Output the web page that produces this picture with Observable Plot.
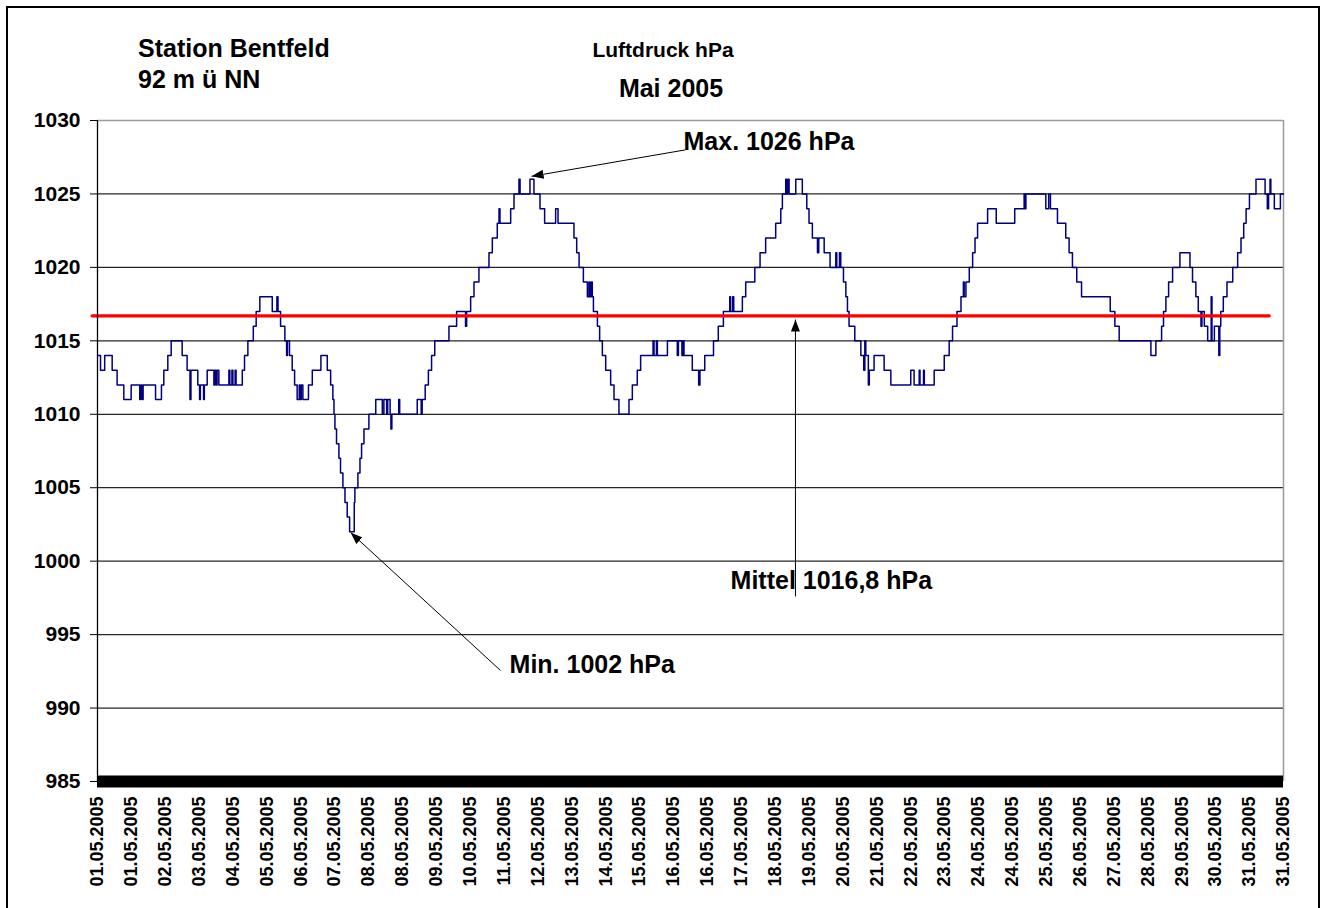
<!DOCTYPE html>
<html><head><meta charset="utf-8">
<script src="https://cdn.jsdelivr.net/npm/d3@7"></script>
<script src="https://cdn.jsdelivr.net/npm/@observablehq/plot@0.6"></script>
<style>
html,body{margin:0;padding:0;background:#fff;overflow:hidden;}
#wrap{position:relative;width:1328px;height:908px;overflow:hidden;}
#frame{position:absolute;left:6px;top:6px;width:1314px;height:1000px;border:2.5px solid #000;box-sizing:border-box;pointer-events:none;}
.t{position:absolute;font-family:"Liberation Sans",Arial,sans-serif;font-weight:bold;white-space:nowrap;line-height:1;color:#000;}
</style></head>
<body>
<div id="wrap">
<div id="chart"></div>
<div id="frame"></div>
<div class="t" style="left:138px;top:36px;font-size:25px">Station Bentfeld</div>
<div class="t" style="left:138px;top:67px;font-size:25px">92 m ü NN</div>
<div class="t" style="left:663px;top:39px;font-size:21px;transform:translateX(-50%)">Luftdruck hPa</div>
<div class="t" style="left:671px;top:76px;font-size:25px;transform:translateX(-50%)">Mai 2005</div>
</div>
<script>
// Hours since 01.05.2005 00:00 at which the reading changes, and the new reading (hPa)
const hours = [0,1.9,4.5,9.2,12.3,16.5,21.1,26.5,27.1,28.0,28.6,36.4,40.1,41.6,44.1,46.2,53.1,56.2,58.0,58.6,
62.9,64.0,64.5,66.5,67.0,68.8,73.0,73.6,74.4,75.0,76.1,82.4,83.0,84.3,84.9,86.3,86.9,90.8,92.2,94.3,
97.7,99.5,101.8,109.6,112.5,113.2,114.8,117.5,118.6,119.1,120.4,122.1,123.6,125.2,126.5,127.0,127.8,128.8,132.3,134.7,
140.1,144.1,146.2,147.6,148.3,148.9,149.9,151.4,152.4,153.9,155.2,156.6,158.1,161.0,161.4,163.3,164.6,165.6,167.1,170.2,
174.5,178.6,179.6,181.3,182.0,183.5,184.0,184.6,188.9,189.5,200.5,203.0,203.6,205.5,207.5,209.5,211.5,220.4,225.2,230.8,
231.5,234.0,236.1,239.2,245.5,247.6,250.7,251.8,252.4,259.1,261.2,264.3,265.0,271.2,273.7,277.5,280.4,287.3,288.8,298.8,
300.5,302.0,304.7,307.2,308.2,308.7,309.6,310.3,311.0,313.5,314.9,316.6,318.7,321.8,323.9,327.0,333.3,335.4,338.5,340.6,
348.4,349.0,350.5,351.1,357.4,363.6,364.3,366.5,367.2,367.8,373.0,377.0,377.8,380.8,386.3,389.3,392.5,396.5,397.0,398.3,
399.0,404.4,406.5,412.2,415.5,419.0,425.3,428.5,429.5,431.6,432.2,432.9,433.7,437.9,442.0,444.8,446.2,448.3,451.5,452.3,
455.7,459.4,463.0,463.6,465.3,466.1,467.8,469.3,470.3,471.3,474.9,478.7,480.5,481.2,481.8,483.4,484.0,487.0,493.3,497.5,
510.0,512.1,515.3,515.8,518.0,518.5,524.7,531.0,534.1,536.2,539.0,541.5,543.0,543.5,544.6,546.7,548.8,550.3,551.9,558.2,
563.6,575.2,581.1,581.6,582.2,594.7,596.5,597.6,602.0,607.2,609.3,611.4,614.1,617.1,635.1,638.0,640.7,660.6,663.7,667.3,
668.5,670.0,671.7,674.2,678.8,685.1,686.7,688.8,690.3,692.0,692.6,694.1,696.2,698.4,698.9,700.4,703.2,703.8,704.4,706.0,
708.3,711.9,715.0,717.1,718.8,720.3,722.4,726.5,732.2,733.6,734.4,735.3,735.8,738.0,741.8,743.75];
const pressure = [1014,1013,1014,1013,1012,1011,1012,1011,1012,1011,1012,1011,1012,1013,1014,1015,1014,1013,1011,1013,
1012,1011,1012,1011,1012,1013,1012,1013,1012,1013,1012,1013,1012,1013,1012,1013,1012,1013,1014,1015,
1016,1017,1018,1017,1018,1017,1016,1015,1014,1015,1014,1013,1012,1011,1012,1011,1012,1011,1012,1013,
1014,1013,1012,1011,1010,1009,1008,1007,1006,1005,1004,1003,1002,1004,1005,1006,1007,1008,1009,1010,
1011,1010,1011,1010,1011,1010,1009,1010,1011,1010,1011,1010,1011,1012,1013,1014,1015,1016,1017,1016,
1017,1018,1019,1020,1021,1022,1023,1024,1023,1024,1025,1026,1025,1026,1025,1024,1023,1024,1023,1022,
1021,1020,1019,1018,1019,1018,1019,1018,1017,1016,1015,1014,1013,1012,1011,1010,1011,1012,1013,1014,
1015,1014,1015,1014,1015,1014,1015,1014,1015,1014,1013,1012,1013,1014,1015,1016,1017,1018,1017,1018,
1017,1018,1019,1020,1021,1022,1023,1024,1025,1026,1025,1026,1025,1026,1025,1024,1023,1022,1021,1022,
1021,1020,1021,1020,1021,1020,1019,1018,1017,1016,1015,1014,1013,1015,1014,1012,1013,1014,1013,1012,
1013,1012,1013,1012,1013,1012,1013,1014,1015,1016,1017,1018,1019,1018,1019,1020,1021,1022,1023,1024,
1023,1024,1025,1024,1025,1024,1025,1024,1023,1022,1021,1020,1019,1018,1017,1016,1015,1014,1015,1016,
1017,1018,1019,1020,1021,1020,1019,1018,1017,1016,1017,1016,1015,1018,1015,1016,1014,1016,1017,1018,
1019,1020,1021,1022,1023,1024,1025,1026,1025,1024,1025,1026,1025,1024,1025,1025];

const tickLabels = ["01.05.2005","01.05.2005","02.05.2005","03.05.2005","04.05.2005","05.05.2005","06.05.2005","07.05.2005","08.05.2005","08.05.2005","09.05.2005","10.05.2005","11.05.2005","12.05.2005","13.05.2005","14.05.2005","15.05.2005","16.05.2005","16.05.2005","17.05.2005","18.05.2005","19.05.2005","20.05.2005","21.05.2005","22.05.2005","23.05.2005","24.05.2005","24.05.2005","25.05.2005","26.05.2005","27.05.2005","28.05.2005","29.05.2005","30.05.2005","31.05.2005","31.05.2005"];
const labelEveryHours = 21.25; // every 85th quarter-hour reading gets a label
const yTicks = [985,990,995,1000,1005,1010,1015,1020,1025,1030];
const gridValues = [990,995,1000,1005,1010,1015,1020,1025];
const lastHour = 743.75;

const meanValue = 1016.7;
const meanSpan = [-3.4, 734.8];

const annotLabels = ["Max. 1026 hPa", "Min. 1002 hPa", "Mittel 1016,8 hPa"];
const annotTextHour = [367.5, 258.4, 397.0];
const annotTextValue = [1028.57, 992.9, 998.62];
const arrowFromHour = [368.7, 252.7, 437.7];
const arrowFromValue = [1028.0, 992.56, 997.6];
const arrowToHour = [272.2, 158.7, 437.7];
const arrowToValue = [1026.2, 1001.95, 1016.45];

const series = hours.map((h, i) => ({hour: h, hPa: pressure[i]}));
const xTicks = tickLabels.map((_, i) => i * labelEveryHours);
const labelAt = new Map(xTicks.map((t, i) => [t, tickLabels[i]]));
const annots = annotLabels.map((l, i) => ({label: l, x: annotTextHour[i], y: annotTextValue[i],
  x1: arrowFromHour[i], y1: arrowFromValue[i], x2: arrowToHour[i], y2: arrowToValue[i]}));
const meanRows = meanSpan.map(h => ({hour: h, hPa: meanValue}));

const font = '"Liberation Sans", Arial, sans-serif';

const arrowHead = (color, context) => {
  const m = d3.create("svg:marker")
    .attr("viewBox", "-12 -5 12 10").attr("markerWidth", 12).attr("markerHeight", 10)
    .attr("markerUnits", "userSpaceOnUse").attr("orient", "auto").attr("refX", 0).attr("refY", 0)
    .attr("fill", color).attr("stroke", "none");
  m.append("path").attr("d", "M-12,-4.5L0,0L-12,4.5Z");
  return m.node();
};

function build(useMarker) {
  const arrowMark = useMarker
    ? Plot.link(annots, {x1: "x1", y1: "y1", x2: "x2", y2: "y2", stroke: "black", strokeWidth: 1, markerEnd: arrowHead})
    : Plot.arrow(annots, {x1: "x1", y1: "y1", x2: "x2", y2: "y2", stroke: "black", strokeWidth: 1, headLength: 10, headAngle: 45});
  return Plot.plot({
    width: 1328, height: 908,
    marginLeft: 97, marginRight: 45, marginTop: 120, marginBottom: 127,
    style: {fontFamily: font, background: "transparent", overflow: "visible"},
    x: {domain: [0, lastHour], axis: null},
    y: {domain: [985, 1030], axis: null},
    marks: [
      Plot.ruleY(gridValues, {stroke: "#262626", strokeWidth: 1.2}),
      Plot.ruleY([1030], {stroke: "#9a9a9a", strokeWidth: 1.5}),
      Plot.ruleX([lastHour], {stroke: "#9a9a9a", strokeWidth: 1.5}),
      Plot.line(series, {x: "hour", y: "hPa", curve: "step-after", stroke: "#000080", strokeWidth: 1.5}),
      Plot.line(meanRows, {x: "hour", y: "hPa", stroke: "#ff0000", strokeWidth: 3.2}),
      Plot.ruleY([985], {stroke: "black", strokeWidth: 12}),
      Plot.ruleX([0], {stroke: "black", strokeWidth: 1.3}),
      Plot.axisY(yTicks, {anchor: "left", tickSize: 7, tickPadding: 10, tickFormat: d => String(d), fontSize: 21, fontWeight: "bold", label: null, stroke: "black"}),
      Plot.axisX(xTicks, {anchor: "bottom", tickSize: 0, tickPadding: 15, tickRotate: -90, tickFormat: d => labelAt.get(d),
        fontSize: 18, fontWeight: "bold", label: null}),
      arrowMark,
      Plot.text(annots, {x: "x", y: "y", text: "label", textAnchor: "start", lineAnchor: "middle",
        fontSize: 25, fontWeight: "bold", fill: "black"})
    ]
  });
}

let chart;
try { chart = build(true); } catch (e) { chart = build(false); }
document.getElementById("chart").appendChild(chart);
</script>
</body></html>
